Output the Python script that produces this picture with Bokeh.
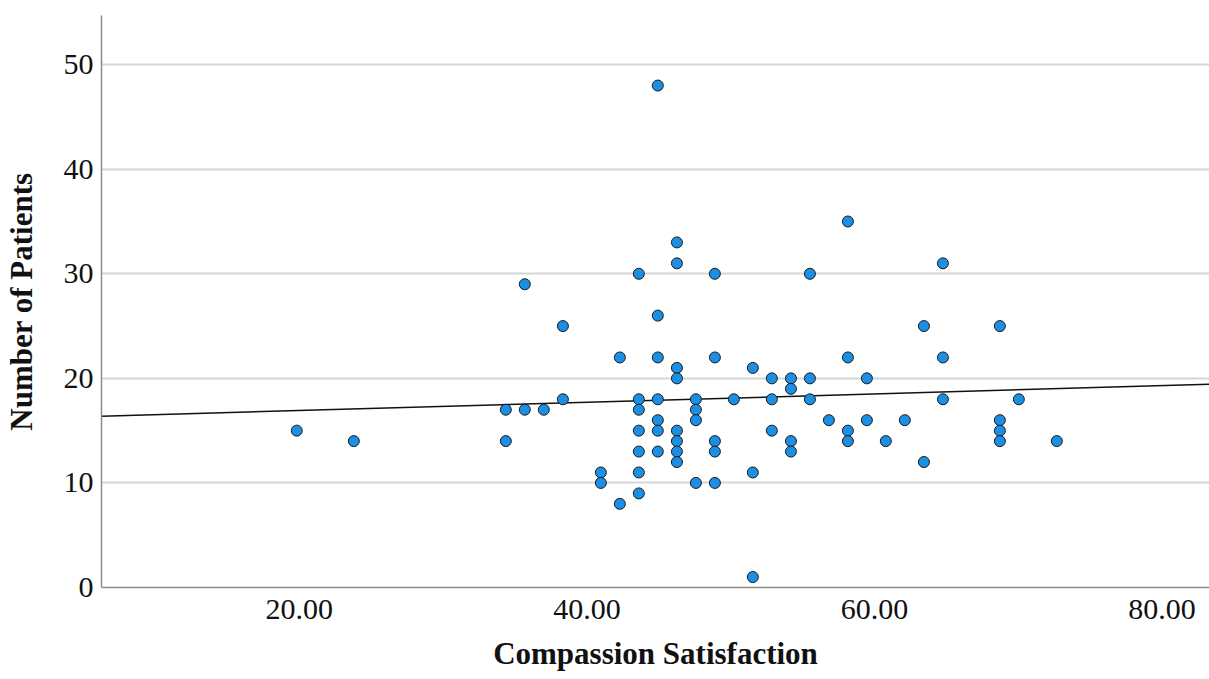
import numpy as np
from bokeh.plotting import figure
from bokeh.models import Range1d, FixedTicker, ColumnDataSource
from bokeh.embed import file_html
from bokeh.resources import INLINE

# Compassion Satisfaction (x) and Number of Patients (y)
compassion = [
    19.82, 23.79,
    34.36, 34.36, 35.68, 35.68, 37.00, 38.33, 38.33,
    40.97, 40.97, 42.29, 42.29,
    43.61, 43.61, 43.61, 43.61, 43.61, 43.61, 43.61,
    44.93, 44.93, 44.93, 44.93, 44.93, 44.93, 44.93,
    46.26, 46.26, 46.26, 46.26, 46.26, 46.26, 46.26, 46.26,
    47.58, 47.58, 47.58, 47.58,
    48.90, 48.90, 48.90, 48.90, 48.90,
    50.22,
    51.54, 51.54, 51.54,
    52.86, 52.86, 52.86,
    54.19, 54.19, 54.19, 54.19,
    55.51, 55.51, 55.51,
    56.83,
    58.15, 58.15, 58.15, 58.15,
    59.47, 59.47,
    60.79, 62.11,
    63.44, 63.44,
    64.76, 64.76, 64.76,
    68.72, 68.72, 68.72, 68.72,
    70.04, 72.68,
]
patients = [
    15, 14,
    17, 14, 29, 17, 17, 25, 18,
    11, 10, 22, 8,
    30, 18, 17, 15, 13, 11, 9,
    48, 26, 22, 18, 16, 15, 13,
    33, 31, 21, 20, 15, 14, 13, 12,
    18, 17, 16, 10,
    30, 22, 14, 13, 10,
    18,
    21, 11, 1,
    20, 18, 15,
    20, 19, 14, 13,
    30, 20, 18,
    16,
    35, 22, 15, 14,
    20, 16,
    14, 16,
    25, 12,
    31, 22, 18,
    25, 16, 15, 14,
    18, 14,
]
x_tick_values = [20, 40, 60, 80]
x_tick_labels = ["20.00", "40.00", "60.00", "80.00"]
y_tick_values = [0, 10, 20, 30, 40, 50]

x_lo, x_hi = 6.24, 83.3
y_lo, y_hi = 0, 54.7

FONT = "Liberation Serif"

p = figure(
    width=1209, height=679,
    x_range=Range1d(x_lo, x_hi), y_range=Range1d(y_lo, y_hi),
    output_backend="svg", toolbar_location=None,
    min_border_left=101, min_border_right=0,
    min_border_top=15, min_border_bottom=92,
)
p.outline_line_color = None
p.background_fill_color = "white"
p.border_fill_color = "white"

# grid
p.xgrid.grid_line_color = None
p.ygrid.grid_line_color = "#d6d6d6"
p.ygrid.grid_line_width = 2
p.ygrid.ticker = FixedTicker(ticks=y_tick_values)

# axes
p.xaxis.ticker = FixedTicker(ticks=x_tick_values)
p.xaxis.major_label_overrides = {v: l for v, l in zip(x_tick_values, x_tick_labels)}
p.yaxis.ticker = FixedTicker(ticks=y_tick_values)
for ax in (p.xaxis[0], p.yaxis[0]):
    ax.axis_line_color = "#8c8c8c"
    ax.axis_line_width = 1.5
    ax.major_tick_line_color = None
    ax.minor_tick_line_color = None
    ax.major_tick_out = 0
    ax.major_tick_in = 0
    ax.minor_tick_out = 0
    ax.minor_tick_in = 0
    ax.major_label_text_font = FONT
    ax.major_label_text_font_size = "30px"
    ax.major_label_text_color = "#111111"
    ax.axis_label_text_font = FONT
    ax.axis_label_text_font_size = "31px"
    ax.axis_label_text_font_style = "bold"
    ax.axis_label_text_color = "#111111"
p.xaxis.axis_label = "Compassion Satisfaction"
p.yaxis.axis_label = "Number of Patients"
p.xaxis.major_label_standoff = 12
p.xaxis.axis_label_standoff = 14
p.yaxis.major_label_standoff = 8
p.yaxis.axis_label_standoff = 22

# fit line
slope, intercept = np.polyfit(compassion, patients, 1)
fx = [x_lo, x_hi]
fy = [intercept + slope * v for v in fx]
p.line(fx, fy, line_color="#111111", line_width=1.5)

src = ColumnDataSource(data=dict(x=compassion, y=patients))
p.scatter("x", "y", source=src, size=11, fill_color="#1b8fe3",
          line_color="#1a1a1a", line_width=1)

open("out.html", "w").write(file_html(p, INLINE))
